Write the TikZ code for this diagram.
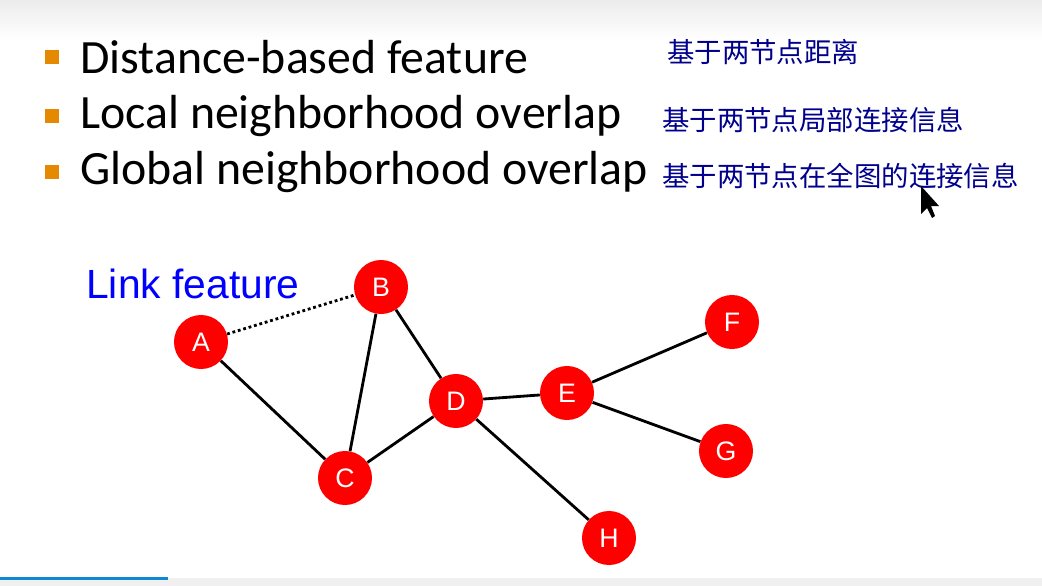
\documentclass[tikz,border=0pt]{standalone}
\usepackage{fontspec}
\setmainfont{Carlito}
\newfontfamily\arialfont{Liberation Sans}
\newfontfamily\cjk{Noto Sans CJK SC}
\colorlet{nodered}{red!90!black}
\colorlet{bulletorange}{orange!80!yellow!90!black}
\colorlet{inkblue}{blue!55!black}
\tikzset{
  vertex/.style={circle, fill=red, minimum size=1.35cm, inner sep=0pt, font=\arialfont\fontsize{19}{19}\selectfont, text=white},
  edge/.style={line width=2pt},
  bulletsq/.style={fill=bulletorange, minimum size=0.36cm, inner sep=0pt},
  item/.style={anchor=west, font=\fontsize{34}{35}\selectfont, inner sep=0pt},
  note/.style={anchor=west, font=\cjk\fontsize{19.5}{20}\selectfont, text=inkblue, inner sep=0pt}
}
\begin{document}
\begin{tikzpicture}[x=0.025cm, y=-0.025cm]
\useasboundingbox (0,0) rectangle (1042,586);
\shade[top color=gray!15, bottom color=white] (0,0) rectangle (1042,40);
\fill[white] (0,40) rectangle (1042,586);
\fill[gray!12] (0,578) rectangle (1042,586);
\fill[cyan!70!blue] (0,577) rectangle (168,580);
% bullet list
\node[bulletsq] (s1) at (52,57) {};
\node[bulletsq] (s2) at (52,116) {};
\node[bulletsq] (s3) at (52,172) {};
\node[item] (t1) at (80,57) {Distance-based feature};
\node[item] (t2) at (80,116) {Local neighborhood overlap};
\node[item] (t3) at (80,172) {Global neighborhood overlap};
\node[note] (n1) at (667,52) {基于两节点距离};
\node[note] (n2) at (662,120) {基于两节点局部连接信息};
\node[note] (n3) at (662,176) {基于两节点在全图的连接信息};
% cursor
\fill[black] (921,186) -- (921,214) -- (927,208) -- (932,218) -- (935,216) -- (931,206) -- (939,206) -- cycle;
\node[anchor=west, font=\arialfont\fontsize{29}{30}\selectfont, text=blue, inner sep=0pt] (lf) at (86,284) {Link feature};
% graph
\node[vertex] (A) at (201,342) {A};
\node[vertex] (B) at (381,287) {B};
\node[vertex] (C) at (345,478) {C};
\node[vertex] (D) at (456,401) {D};
\node[vertex] (E) at (567,393) {E};
\node[vertex] (F) at (732,322) {F};
\node[vertex] (G) at (726,451) {G};
\node[vertex] (H) at (609,538) {H};
\draw[edge, dotted] (A) -- (B);
\draw[edge] (A) -- (C);
\draw[edge] (B) -- (C);
\draw[edge] (B) -- (D);
\draw[edge] (C) -- (D);
\draw[edge] (D) -- (E);
\draw[edge] (D) -- (H);
\draw[edge] (E) -- (F);
\draw[edge] (E) -- (G);
\end{tikzpicture}
\end{document}
